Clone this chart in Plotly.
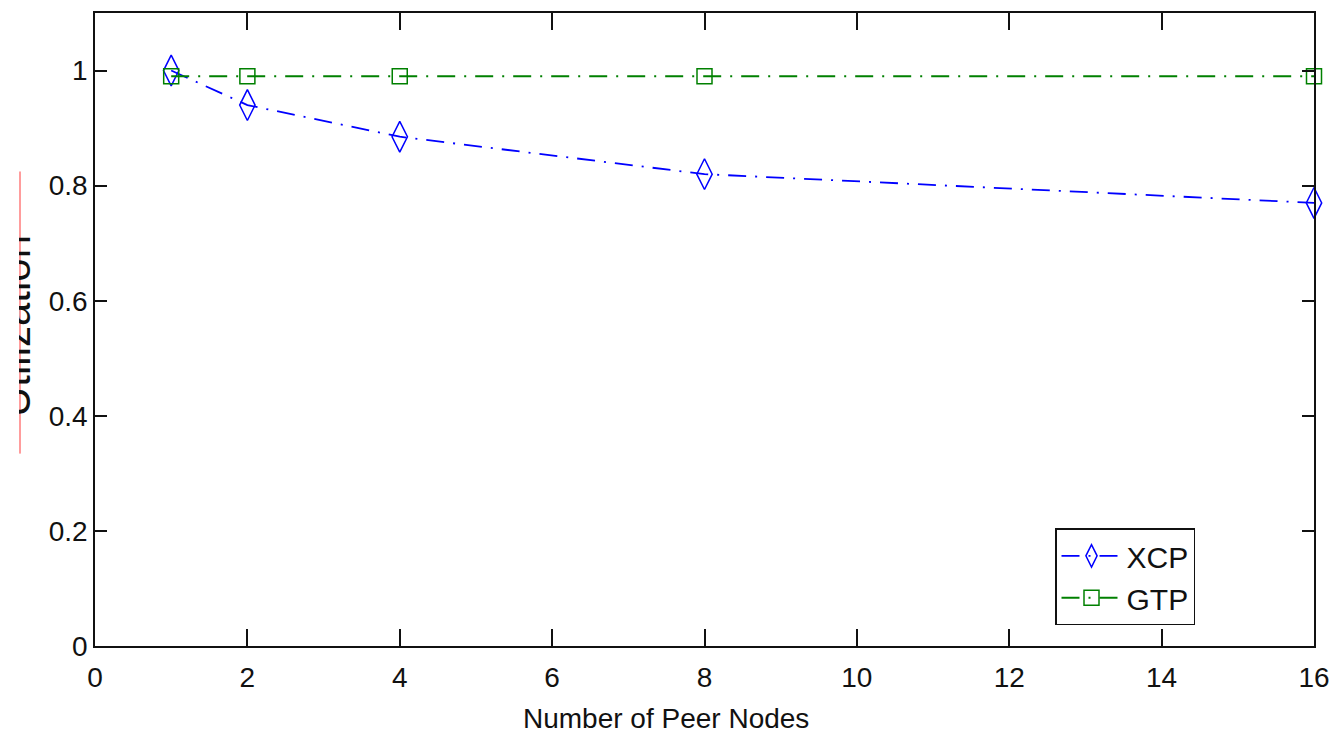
import plotly.graph_objects as go

# Link utilization vs. number of peer nodes
nodes = [1, 2, 4, 8, 16]
xcp_util = [1.0, 0.94, 0.885, 0.82, 0.77]
gtp_util = [0.99, 0.99, 0.99, 0.99, 0.99]

x_ticks = [0, 2, 4, 6, 8, 10, 12, 14, 16]
y_ticks = [0, 0.2, 0.4, 0.6, 0.8, 1]
y_tick_text = ["0", "0.2", "0.4", "0.6", "0.8", "1"]

W, H = 1343, 736
L, R, T, B = 95, 29, 11, 90
PW, PH = W - L - R, H - T - B

FONT = "Liberation Sans, Arial, sans-serif"
DASH = "18px,9px,2px,9px"


def px_x(p):
    return (p - L) / PW


def px_y(p):
    return (H - B - p) / PH


fig = go.Figure()
fig.add_trace(go.Scatter(
    x=nodes, y=xcp_util, name="XCP", mode="lines+markers",
    line=dict(color="#0000ff", width=1.8, dash=DASH),
    marker=dict(symbol="diamond-tall-open", size=22, color="#0000ff",
                line=dict(width=1.5, color="#0000ff")),
    cliponaxis=False,
))
fig.add_trace(go.Scatter(
    x=nodes, y=gtp_util, name="GTP", mode="lines+markers",
    line=dict(color="#008000", width=2, dash=DASH),
    marker=dict(symbol="square-open", size=15, color="#008000",
                line=dict(width=1.5, color="#008000")),
    cliponaxis=False,
))

axis_common = dict(
    showgrid=False, zeroline=False, showline=True, linecolor="#111",
    linewidth=1.6, mirror="ticks", ticks="inside", tickcolor="#111",
    tickwidth=1.5, tickfont=dict(family=FONT, size=28, color="#111"),
)

fig.update_xaxes(range=[0, 16], tickvals=x_ticks, ticklen=17,
                 ticklabelstandoff=6, **axis_common)
fig.update_yaxes(range=[0, 1.1], tickvals=y_ticks, ticktext=y_tick_text,
                 ticklen=12, **axis_common)

annotations = [
    # x-axis label
    dict(text="Number of Peer Nodes", xref="paper", yref="paper",
         x=px_x(666), y=px_y(701), xanchor="center", yanchor="top",
         showarrow=False, font=dict(family=FONT, size=28, color="#111")),
    # y-axis label, partly hidden at the left edge
    dict(text="Utilization", xref="paper", yref="paper",
         x=px_x(15), y=px_y(325), xanchor="center", yanchor="middle",
         textangle=-90, showarrow=False,
         font=dict(family=FONT, size=42, color="#111")),
    # white strip over the left edge of the y label
    dict(text=" ", xref="paper", yref="paper",
         x=px_x(0), y=px_y(325), xanchor="left", yanchor="middle",
         width=19, height=420, bgcolor="white", borderpad=0,
         borderwidth=0, showarrow=False),
]

shapes = [
    dict(type="line", xref="paper", yref="paper",
         x0=px_x(20), x1=px_x(20), y0=px_y(453), y1=px_y(170),
         line=dict(color="#ff3b3b", width=1)),
]

fig.update_layout(
    width=W, height=H, autosize=False,
    margin=dict(l=L, r=R, t=T, b=B, pad=0),
    paper_bgcolor="white", plot_bgcolor="white",
    font=dict(family=FONT, size=28, color="#111"),
    showlegend=True,
    legend=dict(
        x=px_x(1055), y=px_y(528), xanchor="left", yanchor="top",
        bgcolor="white", bordercolor="#111", borderwidth=1.5,
        font=dict(family=FONT, size=30, color="#111"),
        tracegroupgap=0, itemwidth=60,
    ),
    annotations=annotations,
    shapes=shapes,
)

fig.write_html("out.html")
